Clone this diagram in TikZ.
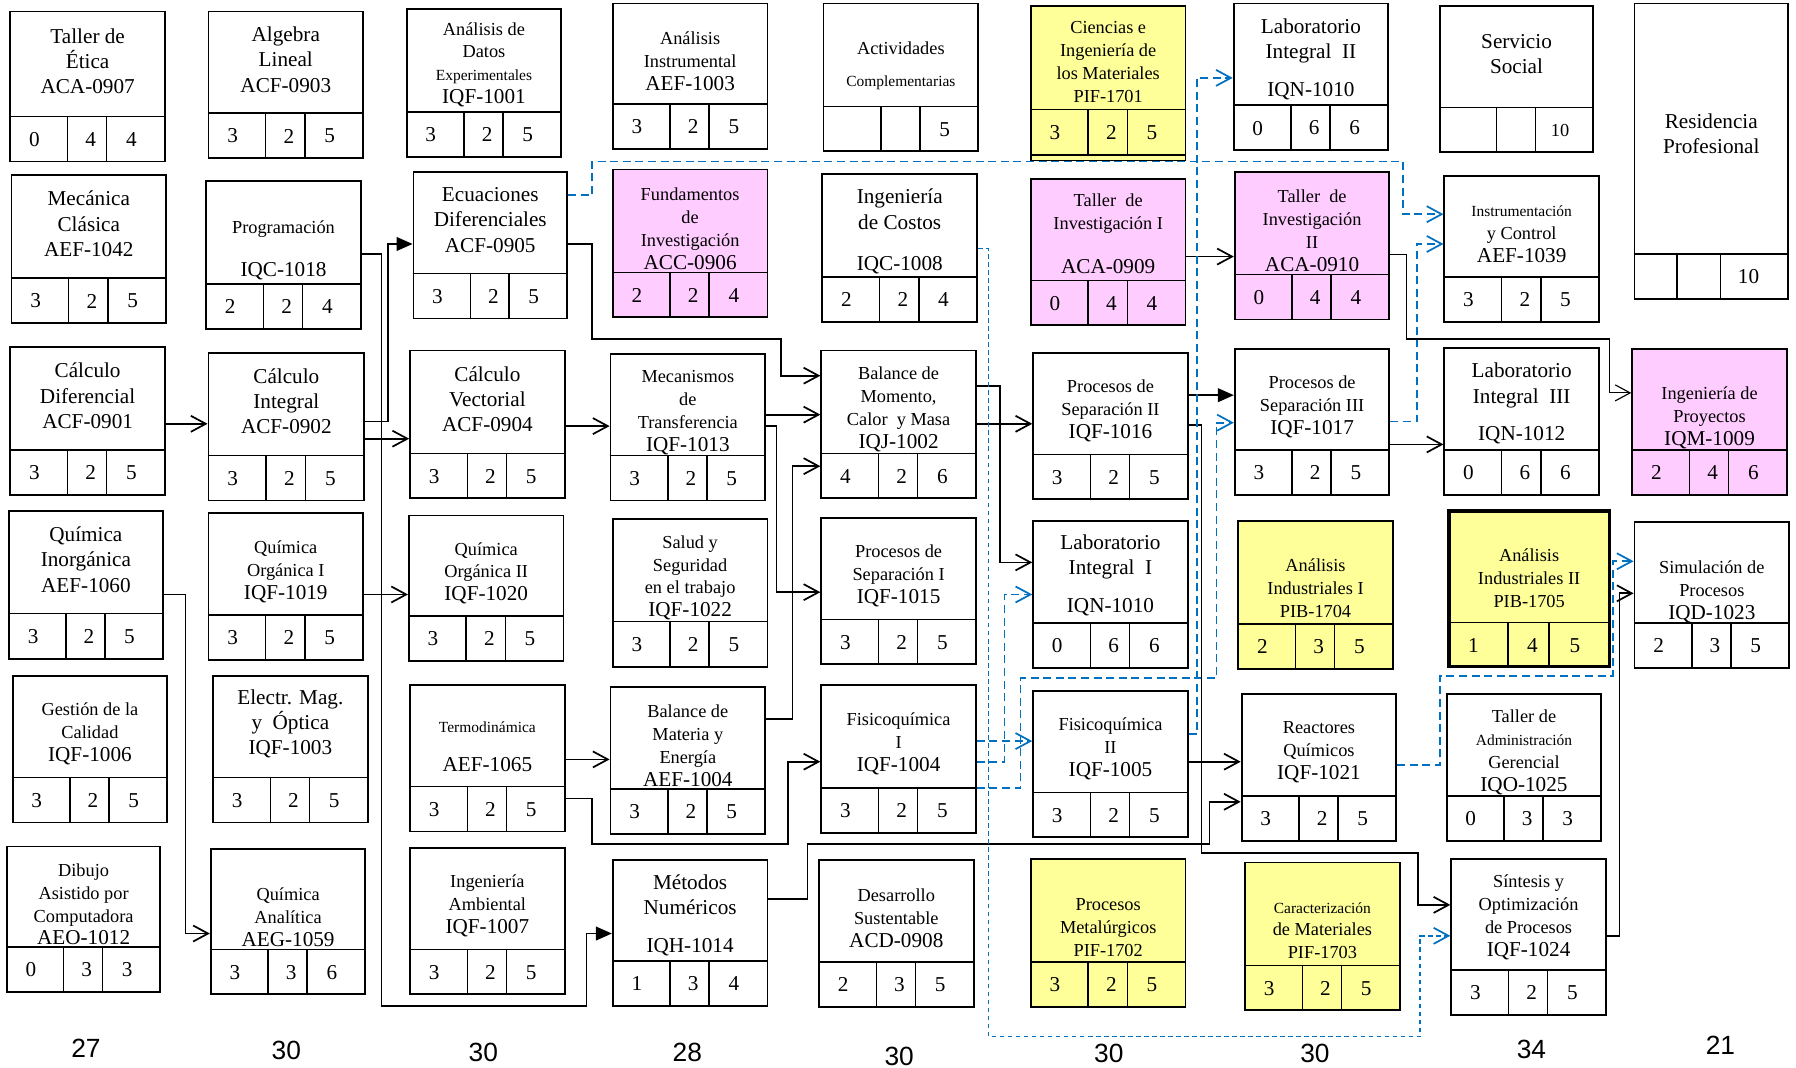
\documentclass[tikz,border=0pt]{standalone}
\usepackage{fontspec}
\setmainfont{Liberation Serif}
\newfontfamily\fuentesans{Liberation Sans}
\usepackage{tikz}
\usetikzlibrary{calc}
\usetikzlibrary{fit}
\usetikzlibrary{arrows.meta}

\definecolor{colRosa}{RGB}{255,204,255}
\definecolor{colAmar}{RGB}{255,255,153}
\definecolor{colAzul}{RGB}{0,112,192}

\newcommand{\grande}{\fontsize{18.5}{22}\selectfont}
\newcommand{\medio}{\fontsize{16}{20}\selectfont}
\newcommand{\chico}{\fontsize{13.5}{18}\selectfont}
\newcommand{\divA}{0.372}
\newcommand{\divB}{0.622}
\newcommand{\posC}{0.78}

% caja de asignatura: [titulo] nombre, esquinas, estilo, texto, creditos
\newcommand{\asig}[8][]{%
	\node[caja,#4,fit={#3}] (#2) {};
	\node[titulo,#1] at ([yshift=13pt]#2.center) {#5};
	\draw[tira] ($(#2.south west)+(0,-40)$) -- ($(#2.south east)+(0,-40)$);
	\draw[tira] ($(#2.south west)!\divA!(#2.south east)$) -- +(0,-40);
	\draw[tira] ($(#2.south west)!\divB!(#2.south east)$) -- +(0,-40);
	\node[cifra] at ($(#2.south west)!0.16!(#2.south east)+(0,-20)$) {#6};
	\node[cifra] at ($(#2.south west)!0.52!(#2.south east)+(0,-20)$) {#7};
	\node[cifra] at ($(#2.south west)!\posC!(#2.south east)+(0,-20)$) {#8};
}

\begin{document}
\begin{tikzpicture}[x=1pt,y=-1pt]
	\tikzstyle{caja}=[draw, line width=1.6pt, inner sep=0pt]
	\tikzstyle{blanca}=[fill=white]
	\tikzstyle{rosa}=[fill=colRosa]
	\tikzstyle{amar}=[fill=colAmar]
	\tikzstyle{tira}=[line width=1.3pt]
	\tikzstyle{titulo}=[align=center, font=\medio, inner sep=0pt]
	\tikzstyle{gran}=[font=\grande, yshift=9pt]
	\tikzstyle{cifra}=[font=\grande, inner sep=0pt]
	\tikzstyle{total}=[font=\fuentesans\fontsize{23}{26}\selectfont]
	\tikzstyle{flecha}=[line width=1.5pt, -{Straight Barb[length=13pt,width=14pt]}]
	\tikzstyle{flechaf}=[line width=1.5pt, -{Triangle[length=14pt,width=12pt]}]
	\tikzstyle{flechad}=[line width=1.5pt, colAzul, dash pattern=on 7pt off 4pt, -{Straight Barb[length=13pt,width=14pt]}]
	
	\fill[white] (0,0) rectangle (1568,932);
	\useasboundingbox (0,0) rectangle (1568,932);
	
	% semestre 1
	\asig[gran]{etica}{(9,10) (144,141)}{blanca}{Taller de\\Ética\\ACA-0907}{0}{4}{4}
	\asig[gran]{mecanica}{(10,153) (145,282)}{blanca}{Mecánica\\Clásica\\AEF-1042}{3}{2}{5}
	\asig[gran]{calcdif}{(9,303) (144,432)}{blanca}{Cálculo\\Diferencial\\ACF-0901}{3}{2}{5}
	\asig[gran]{qinorg}{(8,446) (142,575)}{blanca}{Química\\Inorgánica\\AEF-1060}{3}{2}{5}
	\asig{gestion}{(11,590) (146,718)}{blanca}{Gestión de la\\Calidad\\\grande IQF-1006}{3}{2}{5}
	\asig{dibujo}{(6,739) (140,866)}{blanca}{Dibujo\\Asistido por\\Computadora\\\grande AEO-1012}{0}{3}{3}
	
	% semestre 2
	\asig[gran]{algebra}{(182,10) (317,138)}{blanca}{Algebra\\Lineal\\ACF-0903}{3}{2}{5}
	\asig[yshift=-9pt]{prog}{(180,158) (315,287)}{blanca}{Programación\\[18pt]\grande IQC-1018}{2}{2}{4}
	\asig[gran]{calcint}{(182,308) (318,437)}{blanca}{Cálculo\\Integral\\ACF-0902}{3}{2}{5}
	\asig{qorg1}{(182,448) (317,576)}{blanca}{Química\\Orgánica I\\\grande IQF-1019}{3}{2}{5}
	\asig[gran]{electr}{(186,590) (321,718)}{blanca}{Electr. Mag.\\y\ \ Óptica\\IQF-1003}{3}{2}{5}
	\asig[yshift=-9pt]{qanal}{(184,741) (319,868)}{blanca}{Química\\Analítica\\\grande AEG-1059}{3}{3}{6}
	
	% semestre 3
	\asig[yshift=3pt]{datos}{(355,8) (490,137)}{blanca}{Análisis de\\Datos\\{\chico Experimentales}\\\grande IQF-1001}{3}{2}{5}
	\asig[gran]{ecdif}{(361,150) (495,278)}{blanca}{Ecuaciones\\Diferenciales\\ACF-0905}{3}{2}{5}
	\asig[gran]{calcvec}{(358,306) (493,435)}{blanca}{Cálculo\\Vectorial\\ACF-0904}{3}{2}{5}
	\asig{qorg2}{(357,450) (492,577)}{blanca}{Química\\Orgánica II\\\grande IQF-1020}{3}{2}{5}
	\asig[yshift=-3pt]{termo}{(358,598) (493,726)}{blanca}{\chico Termodinámica\\[14pt]\grande AEF-1065}{3}{2}{5}
	\asig{ambiental}{(358,740) (493,868)}{blanca}{Ingeniería\\Ambiental\\\grande IQF-1007}{3}{2}{5}
	
	% semestre 4
	\asig{instrumental}{(535,3) (670,130)}{blanca}{Análisis\\Instrumental\\\grande AEF-1003}{3}{2}{5}
	\asig{fundinv}{(535,148) (670,277)}{rosa}{Fundamentos\\de\\Investigación\\\grande ACC-0906}{2}{2}{4}
	\asig{mecanismos}{(533,309) (668,437)}{blanca}{Mecanismos\\de\\Transferencia\\\grande IQF-1013}{3}{2}{5}
	\asig{salud}{(535,453) (670,582)}{blanca}{Salud y\\Seguridad\\en el trabajo\\\grande IQF-1022}{3}{2}{5}
	\asig{bme}{(533,600) (668,728)}{blanca}{Balance de\\Materia y\\Energía\\\grande AEF-1004}{3}{2}{5}
	\asig[gran,yshift=-6.5pt]{metodos}{(535,751) (670,878)}{blanca}{Métodos\\Numéricos\\[11pt]IQH-1014}{1}{3}{4}
	
	% semestre 5
	\asig[yshift=-3pt]{actividades}{(719,3) (854,132)}{blanca}{Actividades\\[8pt]\chico Complementarias}{}{}{5}
	\asig[gran,yshift=-7.5pt]{costos}{(718,152) (853,281)}{blanca}{Ingeniería\\de Costos\\[14pt]IQC-1008}{2}{2}{4}
	\asig{bmcm}{(717,306) (852,435)}{blanca}{Balance de\\Momento,\\Calor\ \ y Masa\\\grande IQJ-1002}{4}{2}{6}
	\asig{ps1}{(717,452) (852,580)}{blanca}{Procesos de\\Separación I\\\grande IQF-1015}{3}{2}{5}
	\asig{fisico1}{(717,598) (852,727)}{blanca}{Fisicoquímica\\I\\\grande IQF-1004}{3}{2}{5}
	\asig{desarrollo}{(715,751) (850,879)}{blanca}{Desarrollo\\Sustentable\\\grande ACD-0908}{2}{3}{5}
	
	% semestre 6
	\draw[tira,fill=colAmar] (900,135) rectangle (1035,140);
	\asig[yshift=3pt]{materiales}{(900,5) (1035,135)}{amar}{Ciencias e\\Ingeniería de\\los Materiales\\PIF-1701}{3}{2}{5}
	\asig[yshift=3pt]{tinv1}{(900,156) (1035,284)}{rosa}{Taller\ \ de\\Investigación I\\[18pt]\grande ACA-0909}{0}{4}{4}
	\asig{ps2}{(902,308) (1037,436)}{blanca}{Procesos de\\Separación II\\\grande IQF-1016}{3}{2}{5}
	\asig[gran,yshift=-5.5pt]{labint1}{(902,455) (1037,583)}{blanca}{Laboratorio\\Integral\ \ I\\[11pt]IQN-1010}{0}{6}{6}
	\asig{fisico2}{(902,603) (1037,731)}{blanca}{Fisicoquímica\\II\\\grande IQF-1005}{3}{2}{5}
	\asig[yshift=-8pt]{metalurgicos}{(900,750) (1035,879)}{amar}{Procesos\\Metalúrgicos\\PIF-1702}{3}{2}{5}
	
	% semestre 7
	\asig[gran,yshift=-7pt]{labint2}{(1077,3) (1212,131)}{blanca}{Laboratorio\\Integral\ \ II\\[11pt]IQN-1010}{0}{6}{6}
	\asig{tinv2}{(1078,150) (1213,279)}{rosa}{Taller\ \ de\\Investigación\\II\\\grande ACA-0910}{0}{4}{4}
	\asig{ps3}{(1078,305) (1213,432)}{blanca}{Procesos de\\Separación III\\\grande IQF-1017}{3}{2}{5}
	\asig[yshift=-7pt]{anind1}{(1081,455) (1216,584)}{amar}{Análisis\\Industriales I\\PIB-1704}{2}{3}{5}
	\asig{reactores}{(1084,606) (1219,734)}{blanca}{Reactores\\Químicos\\\grande IQF-1021}{3}{2}{5}
	\asig[yshift=-8pt]{caracterizacion}{(1087,753) (1222,882)}{amar}{{\chico Caracterización}\\de Materiales\\PIF-1703}{3}{2}{5}
	
	% semestre 8
	\asig[gran]{servicio}{(1257,5) (1391,133)}{blanca}{Servicio\\Social}{}{}{\medio 10}
	\asig{instrum}{(1261,154) (1396,281)}{blanca}{{\chico Instrumentación}\\y Control\\\grande AEF-1039}{3}{2}{5}
	\asig[gran,yshift=-6.5pt]{labint3}{(1261,304) (1396,432)}{blanca}{Laboratorio\\Integral\ \ III\\[11pt]IQN-1012}{0}{6}{6}
	\asig[yshift=-4pt]{anind2}{(1265,446) (1405,582)}{amar,line width=3pt}{Análisis\\Industriales II\\PIB-1705}{1}{4}{5}
	\asig{admin}{(1263,606) (1398,734)}{blanca}{Taller de\\{\chico Administración}\\Gerencial\\\grande IQO-1025}{0}{3}{3}
	\asig[yshift=4pt]{sintesis}{(1267,750) (1402,886)}{blanca}{Síntesis y\\Optimización\\de Procesos\\\grande IQF-1024}{3}{2}{5}
	
	% semestre 9
	\begin{scope}
		\renewcommand{\divA}{0.28}
		\renewcommand{\divB}{0.56}
		\renewcommand{\posC}{0.74}
		\asig[gran,yshift=-7pt]{residencia}{(1427,3) (1561,261)}{blanca}{Residencia\\Profesional}{}{}{10}
	\end{scope}
	\asig[yshift=-9pt]{ingproy}{(1425,305) (1560,432)}{rosa}{Ingeniería de\\Proyectos\\\grande IQM-1009}{2}{4}{6}
	\asig[yshift=-10pt]{simulacion}{(1427,456) (1562,583)}{blanca}{Simulación de\\Procesos\\\grande IQD-1023}{2}{3}{5}
	
	% seriacion
	\draw[flecha] (calcdif.east |- 0,370) -- (calcint.west |- 0,370);
	\draw[flecha] (qinorg.east |- 0,519) -| (162,815) -- (qanal.west |- 0,815);
	\draw[flechaf] (prog.east |- 0,222) -| (333,878) -| (512,815) -- (metodos.west |- 0,815);
	\draw[flechaf] (calcint.east |- 0,368) -| (339,213) -- (ecdif.west |- 0,213);
	\draw[flecha] (calcint.east |- 0,383) -- (calcvec.west |- 0,383);
	\draw[flecha] (qorg1.east |- 0,519) -- (qorg2.west |- 0,519);
	
	\draw[flechad] (ecdif.east |- 0,170) -| (517,141) -| (1225,187) -- (instrum.west |- 0,187);
	\draw[flecha] (ecdif.east |- 0,213) -| (517,296) -| (682,328) -- (bmcm.west |- 0,328);
	\draw[flecha] (calcvec.east |- 0,372) -- (mecanismos.west |- 0,372);
	\draw[flecha] (termo.east |- 0,663) -- (bme.west |- 0,663);
	\draw[flecha] (termo.east |- 0,697) -| (517,737) -| (688,665) -- (fisico1.west |- 0,665);
	
	\draw[flecha] (mecanismos.east |- 0,362) -- (bmcm.west |- 0,362);
	\draw[flecha] (mecanismos.east |- 0,372) -| (678,517) -- (ps1.west |- 0,517);
	\draw[flecha] (bme.east |- 0,628) -| (692,407) -- (bmcm.west |- 0,407);
	\draw[flecha] (metodos.east |- 0,785) -| (705,737) -| (1056,700) -- (reactores.west |- 0,700);
	
	\draw[flecha] (bmcm.east |- 0,370) -- (ps2.west |- 0,370);
	\draw[flecha] (bmcm.east |- 0,337) -| (873,491) -- (labint1.west |- 0,491);
	\draw[flechad, dash pattern=on 4pt off 3pt] (costos.east |- 0,217) -| (863,905) -| (1240,817) -- (sintesis.west |- 0,817);
	\draw[flechad] (fisico1.east |- 0,647) -- (fisico2.west |- 0,647);
	\draw[flechad] (fisico1.east |- 0,665) -| (877,519) -- (labint1.west |- 0,519);
	\draw[flechad] (fisico1.east |- 0,688) -| (891,592) -| (1062,369) -- (ps3.west |- 0,369);
	
	\draw[flecha] (tinv1.east |- 0,224) -- (tinv2.west |- 0,224);
	\draw[flechaf] (ps2.east |- 0,345) -- (ps3.west |- 0,345);
	\draw[flecha] (ps2.east |- 0,371) -| (1049,745) -| (1238,790) -- (sintesis.west |- 0,790);
	\draw[flechad] (fisico2.east |- 0,641) -| (1045,68) -- (labint2.west |- 0,68);
	\draw[flecha] (fisico2.east |- 0,665) -- (reactores.west |- 0,665);
	
	\draw[flechad] (ps3.east |- 0,368) -| (1237,213) -- (instrum.west |- 0,213);
	\draw[flecha, line width=1pt] (tinv2.east |- 0,222) -| (1228,296) -| (1405,343) -- (ingproy.west |- 0,343);
	\draw[flecha] (ps3.east |- 0,388) -- (labint3.west |- 0,388);
	\draw[flechad] (reactores.east |- 0,668) -| (1257,590) -| (1408,490) -- (simulacion.west |- 0,490);
	\draw[flecha] (sintesis.east |- 0,817) -| (1414,518) -- (simulacion.west |- 0,518);
	
	% creditos por semestre
	\node[total] (tot1) at (75,915) {27};
	\node[total] (tot2) at (250,917) {30};
	\node[total] (tot3) at (422,919) {30};
	\node[total] (tot4) at (600,919) {28};
	\node[total] (tot5) at (785,922) {30};
	\node[total] (tot6) at (968,920) {30};
	\node[total] (tot7) at (1148,920) {30};
	\node[total] (tot8) at (1337,916) {34};
	\node[total] (tot9) at (1502,913) {21};
\end{tikzpicture}
\end{document}
